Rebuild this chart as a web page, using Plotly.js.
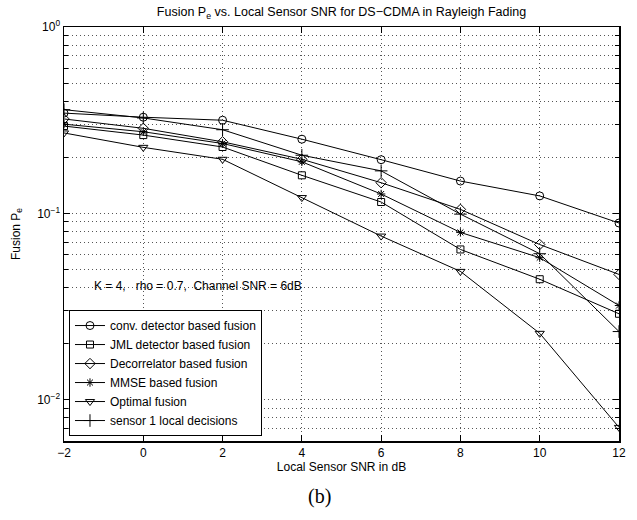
<!DOCTYPE html>
<html>
<head>
<meta charset="utf-8">
<script src="https://cdn.plot.ly/plotly-3.0.1.min.js"></script>
<style>html,body{margin:0;padding:0;background:#fff;}#plot{width:637px;height:520px;}</style>
</head>
<body>
<div id="plot"></div>
<script>
// Local sensor SNR (dB)
var snr = [-2, 0, 2, 4, 6, 8, 10, 12];
// Fusion error probability for each scheme
var convFusion    = [0.345, 0.328, 0.316, 0.250, 0.194, 0.149, 0.124, 0.0887];
var jmlFusion     = [0.294, 0.263, 0.227, 0.160, 0.115, 0.064, 0.0443, 0.0289];
var decorFusion   = [0.321, 0.286, 0.242, 0.195, 0.146, 0.105, 0.068, 0.047];
var mmseFusion    = [0.301, 0.274, 0.237, 0.189, 0.127, 0.079, 0.0578, 0.032];
var optimalFusion = [0.270, 0.226, 0.195, 0.1215, 0.0755, 0.0488, 0.0227, 0.0071];
var sensor1Local  = [0.360, 0.325, 0.281, 0.205, 0.169, 0.099, 0.0607, 0.0232];

var seriesNames = ['conv. detector based fusion', 'JML detector based fusion', 'Decorrelator based fusion',
                   'MMSE based fusion', 'Optimal fusion', 'sensor 1 local decisions'];

// Tick labels
var xTickVals = [-2, 0, 2, 4, 6, 8, 10, 12];
var yTickVals = [1, 0.1, 0.01];
var yTickText = ['10<sup>0</sup>', '10<sup>\u22121</sup>', '10<sup>\u22122</sup>'];
var yMinorVals = [0.006, 0.007, 0.008, 0.009, 0.02, 0.03, 0.04, 0.05, 0.06, 0.07, 0.08, 0.09,
                  0.2, 0.3, 0.4, 0.5, 0.6, 0.7, 0.8, 0.9];

var seriesData = [convFusion, jmlFusion, decorFusion, mmseFusion, optimalFusion, sensor1Local];
var symbols = ['circle-open', 'square-open', 'diamond-open', 'asterisk-open', 'triangle-down-open', 'cross-thin-open'];
var sizes = [8, 7, 8, 7, 8, 9];

var traces = seriesData.map(function (vals, i) {
  return {
    x: snr, y: vals, name: seriesNames[i], type: 'scatter', mode: 'lines+markers',
    line: {color: '#000', width: 1},
    marker: {symbol: symbols[i], size: sizes[i], color: '#000', line: {color: '#000', width: 1}}
  };
});

var font = 'Liberation Sans, Arial, Helvetica, sans-serif';
var gridDash = '1px,3px';
var gridColor = '#555';
var fs = 12;

var layout = {
  width: 637, height: 520,
  margin: {l: 64, r: 18, t: 27, b: 79},
  paper_bgcolor: '#fff', plot_bgcolor: '#fff',
  font: {family: font, size: fs, color: '#000'},
  showlegend: true,
  title: {
    text: 'Fusion P<sub>e</sub> vs. Local Sensor SNR for DS\u2212CDMA in Rayleigh Fading',
    font: {family: font, size: 12.5, color: '#000'},
    x: 0.5, xref: 'paper', xanchor: 'center',
    y: 1 - 12 / 520, yref: 'container', yanchor: 'middle'
  },
  xaxis: {
    range: [-2, 12], tickmode: 'array', tickvals: xTickVals,
    ticks: 'inside', ticklen: 6, tickcolor: '#000', tickwidth: 1,
    showline: true, linecolor: '#000', linewidth: 1.5, mirror: 'ticks',
    showgrid: true, gridcolor: gridColor, gridwidth: 1, griddash: gridDash,
    zeroline: false,
    tickfont: {family: font, size: fs, color: '#000'},
    title: {text: 'Local Sensor SNR in dB', font: {family: font, size: fs, color: '#000'}, standoff: 2}
  },
  yaxis: {
    type: 'log', range: [Math.log10(0.006), 0],
    tickmode: 'array', tickvals: yTickVals, ticktext: yTickText,
    ticks: 'inside', ticklen: 6, tickcolor: '#000', tickwidth: 1,
    showline: true, linecolor: '#000', linewidth: 1.5, mirror: 'ticks',
    showgrid: true, gridcolor: gridColor, gridwidth: 1, griddash: gridDash,
    zeroline: false,
    tickfont: {family: font, size: fs, color: '#000'},
    minor: {tickmode: 'array', tickvals: yMinorVals, ticks: 'inside', ticklen: 4, tickcolor: '#000',
            showgrid: true, gridcolor: gridColor, gridwidth: 1, griddash: gridDash},
    title: {text: 'Fusion P<sub>e</sub>', font: {family: font, size: fs, color: '#000'}, standoff: 14}
  },
  legend: {
    x: 0.009, y: 0.012, xanchor: 'left', yanchor: 'bottom',
    bgcolor: '#fff', bordercolor: '#000', borderwidth: 1,
    font: {family: font, size: fs, color: '#000'},
    itemwidth: 30, tracegroupgap: 0
  },
  annotations: [
    {
      text: 'K = 4,\u00a0\u00a0 rho = 0.7,\u00a0 Channel SNR = 6dB',
      xref: 'paper', yref: 'paper', x: 0.05, y: 0.374, xanchor: 'left', yanchor: 'middle',
      showarrow: false, font: {family: font, size: fs, color: '#000'}
    },
    {
      text: '(b)',
      xref: 'paper', yref: 'paper', x: 0.461, y: -0.135, xanchor: 'center', yanchor: 'middle',
      showarrow: false, font: {family: 'Liberation Serif, Times New Roman, serif', size: 20, color: '#000'}
    }
  ]
};

Plotly.newPlot('plot', traces, layout, {displayModeBar: false, staticPlot: true});
</script>
</body>
</html>
